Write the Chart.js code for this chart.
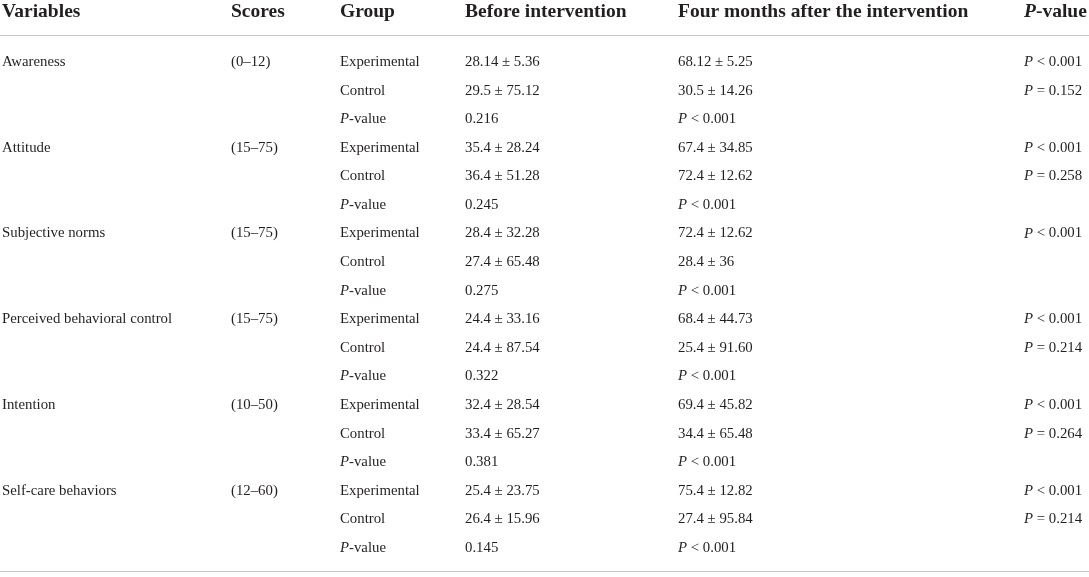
<!DOCTYPE html>
<html>
<head>
<meta charset="utf-8">
<script src="https://cdn.jsdelivr.net/npm/chart.js@4/dist/chart.umd.min.js"></script>
<style>
  html, body { margin: 0; padding: 0; background: #fff; }
  #wrap { width: 1089px; height: 577px; position: relative; }
</style>
</head>
<body>
<div id="wrap"><canvas id="chart"></canvas></div>
<script>
// table data
const headers = ['Variables', 'Scores', 'Group', 'Before intervention', 'Four months after the intervention', 'P-value'];
const variables = ['Awareness', 'Attitude', 'Subjective norms', 'Perceived behavioral control', 'Intention', 'Self-care behaviors'];
const scoreRanges = ['(0–12)', '(15–75)', '(15–75)', '(15–75)', '(10–50)', '(12–60)'];
const groups = ['Experimental', 'Control', 'P-value'];
const beforeExp = ['28.14 ± 5.36', '35.4 ± 28.24', '28.4 ± 32.28', '24.4 ± 33.16', '32.4 ± 28.54', '25.4 ± 23.75'];
const beforeCtrl = ['29.5 ± 75.12', '36.4 ± 51.28', '27.4 ± 65.48', '24.4 ± 87.54', '33.4 ± 65.27', '26.4 ± 15.96'];
const beforeP = ['0.216', '0.245', '0.275', '0.322', '0.381', '0.145'];
const afterExp = ['68.12 ± 5.25', '67.4 ± 34.85', '72.4 ± 12.62', '68.4 ± 44.73', '69.4 ± 45.82', '75.4 ± 12.82'];
const afterCtrl = ['30.5 ± 14.26', '72.4 ± 12.62', '28.4 ± 36', '25.4 ± 91.60', '34.4 ± 65.48', '27.4 ± 95.84'];
const afterP = ['P < 0.001', 'P < 0.001', 'P < 0.001', 'P < 0.001', 'P < 0.001', 'P < 0.001'];
const withinExp = ['P < 0.001', 'P < 0.001', 'P < 0.001', 'P < 0.001', 'P < 0.001', 'P < 0.001'];
const withinCtrl = ['P = 0.152', 'P = 0.258', '', 'P = 0.214', 'P = 0.264', 'P = 0.214'];

// layout (left edge of each column, in scale units)
const colX = [2, 231, 340, 465, 678, 1024];
const HEADER_ROW = -1.75;

// build cells
const cells = [];
const texts = [];
const bold = [];
headers.forEach(function(h, c) {
  cells.push({x: colX[c], y: HEADER_ROW});
  texts.push(h);
  bold.push(true);
});
variables.forEach(function(v, i) {
  const rows = [
    [v, scoreRanges[i], groups[0], beforeExp[i], afterExp[i], withinExp[i]],
    ['', '', groups[1], beforeCtrl[i], afterCtrl[i], withinCtrl[i]],
    ['', '', groups[2], beforeP[i], afterP[i], '']
  ];
  rows.forEach(function(r, k) {
    r.forEach(function(t, c) {
      if (!t) return;
      cells.push({x: colX[c], y: i * 3 + k});
      texts.push(t);
      bold.push(false);
    });
  });
});

const SERIF = '"Liberation Serif", "DejaVu Serif", serif';
const INK = '#231f20';

const tablePlugin = {
  id: 'tableText',
  afterDatasetsDraw(chart) {
    const ctx = chart.ctx;
    const xs = chart.scales.x, ys = chart.scales.y;
    // rules
    ctx.save();
    ctx.strokeStyle = '#c6c6c6';
    ctx.lineWidth = 1.2;
    [-0.95, 17.8].forEach(function(v) {
      const py = Math.round(ys.getPixelForValue(v)) + 0.5;
      ctx.beginPath();
      ctx.moveTo(xs.getPixelForValue(0), py);
      ctx.lineTo(xs.getPixelForValue(1089), py);
      ctx.stroke();
    });
    // text
    ctx.fillStyle = INK;
    ctx.textBaseline = 'middle';
    ctx.textAlign = 'left';
    const meta = chart.getDatasetMeta(0);
    meta.data.forEach(function(pt, i) {
      const t = texts[i];
      const b = bold[i];
      const size = b ? 19.5 : 14.8;
      const weight = b ? 'bold ' : '';
      let x = pt.x;
      if (/^P[ -]/.test(t)) {
        ctx.font = 'italic ' + weight + size + 'px ' + SERIF;
        ctx.fillText('P', x, pt.y);
        x += ctx.measureText('P').width;
        ctx.font = weight + size + 'px ' + SERIF;
        ctx.fillText(t.slice(1), x, pt.y);
      } else {
        ctx.font = weight + size + 'px ' + SERIF;
        ctx.fillText(t, x, pt.y);
      }
    });
    ctx.restore();
  }
};

new Chart('chart', {
  type: 'scatter',
  data: {
    datasets: [{
      data: cells,
      pointRadius: 0,
      pointHoverRadius: 0
    }]
  },
  options: {
    responsive: true,
    maintainAspectRatio: false,
    animation: false,
    events: [],
    layout: {padding: 0},
    plugins: {legend: {display: false}, tooltip: {enabled: false}},
    scales: {
      x: {type: 'linear', min: 0, max: 1089, display: false},
      y: {type: 'linear', min: -2.17, max: 18.01, reverse: true, display: false}
    }
  },
  plugins: [tablePlugin]
});
</script>
</body>
</html>
